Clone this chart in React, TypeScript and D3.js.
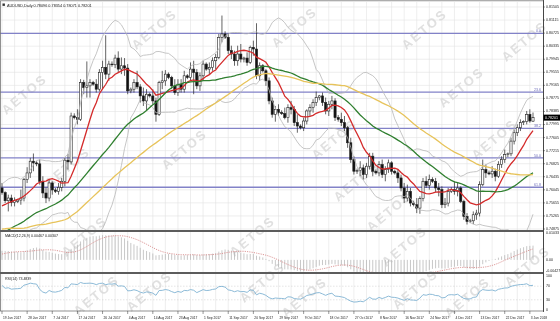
import React from 'react';
import * as d3 from 'd3';

const TITLE = 'AUDUSD,Daily  0.78096 0.78354 0.78071 0.78201';
const MACD_TITLE = 'MACD(12,26,9) 0.00467 0.00307';
const RSI_TITLE = 'RSI(14) 73.4839';
const LAST_PRICE = 0.78201;

// closes before the first visible bar (indicator history)
const historyCloses = [
  0.7630, 0.7610, 0.7570, 0.7580, 0.7590, 0.7540,
  0.7540, 0.7520, 0.7500, 0.7560, 0.7580, 0.7575,
  0.7575, 0.7600, 0.7560, 0.7530, 0.7540, 0.7545,
  0.7560, 0.7560, 0.7510, 0.7500, 0.7480, 0.7475,
  0.7475, 0.7520, 0.7530, 0.7440, 0.7410, 0.7420,
  0.7415, 0.7385, 0.7355, 0.7400, 0.7395, 0.7380,
  0.7385, 0.7420, 0.7410, 0.7445, 0.7415, 0.7470,
  0.7465, 0.7480, 0.7500, 0.7460, 0.7460, 0.7450,
  0.7450, 0.7445, 0.7430, 0.7425, 0.7420, 0.7450,
  0.7450, 0.7450, 0.7500, 0.7530, 0.7530, 0.7535,
  0.7535, 0.7540, 0.7540, 0.7575, 0.7580, 0.7605,
];

// visible daily bars: open, high, low, close
const bars: [number, number, number, number][] = [
  [0.7610, 0.7625, 0.7590, 0.7596], [0.7596, 0.7600, 0.7565, 0.7572], [0.7572, 0.7590, 0.7540, 0.7580],
  [0.7580, 0.7590, 0.7555, 0.7567], [0.7567, 0.7582, 0.7555, 0.7572], [0.7570, 0.7578, 0.7565, 0.7574],
  [0.7574, 0.7605, 0.7560, 0.7580], [0.7580, 0.7640, 0.7570, 0.7635], [0.7635, 0.7672, 0.7625, 0.7655],
  [0.7655, 0.7700, 0.7640, 0.7690], [0.7690, 0.7713, 0.7660, 0.7685], [0.7685, 0.7690, 0.7675, 0.7682],
  [0.7682, 0.7695, 0.7620, 0.7630], [0.7630, 0.7645, 0.7580, 0.7595], [0.7595, 0.7612, 0.7565, 0.7580],
  [0.7580, 0.7635, 0.7570, 0.7625], [0.7625, 0.7630, 0.7590, 0.7604], [0.7604, 0.7610, 0.7595, 0.7600],
  [0.7600, 0.7625, 0.7590, 0.7612], [0.7612, 0.7640, 0.7600, 0.7630], [0.7630, 0.7700, 0.7615, 0.7693],
  [0.7693, 0.7712, 0.7665, 0.7688], [0.7688, 0.7835, 0.7680, 0.7825], [0.7825, 0.7833, 0.7815, 0.7820],
  [0.7820, 0.7845, 0.7800, 0.7815], [0.7815, 0.7935, 0.7810, 0.7925], [0.7925, 0.7933, 0.7890, 0.7910],
  [0.7910, 0.7988, 0.7880, 0.7915], [0.7915, 0.7935, 0.7880, 0.7925], [0.7925, 0.7930, 0.7915, 0.7920],
  [0.7920, 0.7935, 0.7895, 0.7905], [0.7905, 0.7965, 0.7898, 0.7955], [0.7955, 0.7990, 0.7905, 0.7970],
  [0.7970, 0.8066, 0.7935, 0.7950], [0.7950, 0.7990, 0.7930, 0.7980], [0.7980, 0.7988, 0.7972, 0.7978],
  [0.7978, 0.8008, 0.7968, 0.7998], [0.7998, 0.8018, 0.7955, 0.7965], [0.7965, 0.8000, 0.7950, 0.7975],
  [0.7975, 0.7998, 0.7945, 0.7968], [0.7968, 0.7980, 0.7890, 0.7900], [0.7900, 0.7910, 0.7893, 0.7905],
  [0.7905, 0.7935, 0.7895, 0.7925], [0.7925, 0.7960, 0.7905, 0.7912], [0.7912, 0.7920, 0.7865, 0.7885],
  [0.7885, 0.7910, 0.7855, 0.7870], [0.7870, 0.7905, 0.7840, 0.7890], [0.7890, 0.7895, 0.7880, 0.7885],
  [0.7885, 0.7905, 0.7860, 0.7870], [0.7870, 0.7880, 0.7808, 0.7830], [0.7830, 0.7930, 0.7825, 0.7925],
  [0.7925, 0.7960, 0.7905, 0.7930], [0.7930, 0.7962, 0.7915, 0.7950], [0.7950, 0.7955, 0.7935, 0.7940],
  [0.7940, 0.7945, 0.7905, 0.7915], [0.7915, 0.7935, 0.7888, 0.7895], [0.7895, 0.7935, 0.7885, 0.7920],
  [0.7920, 0.7935, 0.7895, 0.7905], [0.7905, 0.7960, 0.7895, 0.7945], [0.7945, 0.7950, 0.7935, 0.7940],
  [0.7940, 0.7985, 0.7930, 0.7965], [0.7965, 0.7990, 0.7890, 0.7955], [0.7955, 0.7965, 0.7905, 0.7915],
  [0.7915, 0.7955, 0.7900, 0.7945], [0.7945, 0.7990, 0.7930, 0.7980], [0.7980, 0.7985, 0.7960, 0.7965],
  [0.7965, 0.7985, 0.7950, 0.7970], [0.7970, 0.8000, 0.7960, 0.7990], [0.7990, 0.8010, 0.7965, 0.8000],
  [0.8000, 0.8070, 0.7995, 0.8060], [0.8060, 0.8125, 0.8045, 0.8070], [0.8070, 0.8078, 0.8055, 0.8060],
  [0.8060, 0.8072, 0.8010, 0.8020], [0.8020, 0.8035, 0.7995, 0.8010], [0.8010, 0.8020, 0.7975, 0.7990],
  [0.7990, 0.8035, 0.7975, 0.8010], [0.8010, 0.8040, 0.7985, 0.7995], [0.7995, 0.8002, 0.7985, 0.7998],
  [0.7998, 0.8015, 0.7975, 0.7985], [0.7985, 0.8035, 0.7980, 0.8030], [0.8030, 0.8050, 0.8005, 0.8025],
  [0.8025, 0.8102, 0.7935, 0.7945], [0.7945, 0.7985, 0.7930, 0.7975], [0.7975, 0.7980, 0.7955, 0.7960],
  [0.7960, 0.7965, 0.7915, 0.7930], [0.7930, 0.7940, 0.7860, 0.7870], [0.7870, 0.7880, 0.7820, 0.7830],
  [0.7830, 0.7855, 0.7808, 0.7845], [0.7845, 0.7860, 0.7825, 0.7835], [0.7835, 0.7842, 0.7828, 0.7832],
  [0.7832, 0.7850, 0.7815, 0.7820], [0.7820, 0.7860, 0.7805, 0.7850], [0.7850, 0.7870, 0.7830, 0.7845],
  [0.7845, 0.7855, 0.7795, 0.7805], [0.7805, 0.7830, 0.7775, 0.7795], [0.7795, 0.7800, 0.7785, 0.7790],
  [0.7790, 0.7820, 0.7780, 0.7810], [0.7810, 0.7845, 0.7800, 0.7840], [0.7840, 0.7860, 0.7825, 0.7850],
  [0.7850, 0.7875, 0.7835, 0.7865], [0.7865, 0.7898, 0.7855, 0.7880], [0.7880, 0.7888, 0.7872, 0.7885],
  [0.7885, 0.7895, 0.7855, 0.7865], [0.7865, 0.7880, 0.7830, 0.7840], [0.7840, 0.7870, 0.7825, 0.7860],
  [0.7860, 0.7885, 0.7845, 0.7870], [0.7870, 0.7878, 0.7810, 0.7820], [0.7820, 0.7828, 0.7808, 0.7815],
  [0.7815, 0.7835, 0.7795, 0.7805], [0.7805, 0.7825, 0.7780, 0.7790], [0.7790, 0.7795, 0.7730, 0.7745],
  [0.7745, 0.7760, 0.7685, 0.7695], [0.7695, 0.7705, 0.7650, 0.7660], [0.7660, 0.7668, 0.7652, 0.7662],
  [0.7662, 0.7690, 0.7645, 0.7670], [0.7670, 0.7680, 0.7635, 0.7650], [0.7650, 0.7685, 0.7640, 0.7675],
  [0.7675, 0.7715, 0.7665, 0.7705], [0.7705, 0.7715, 0.7645, 0.7660], [0.7660, 0.7665, 0.7650, 0.7655],
  [0.7655, 0.7690, 0.7645, 0.7680], [0.7680, 0.7695, 0.7640, 0.7650], [0.7650, 0.7675, 0.7630, 0.7665],
  [0.7665, 0.7695, 0.7655, 0.7685], [0.7685, 0.7690, 0.7650, 0.7660], [0.7660, 0.7665, 0.7650, 0.7655],
  [0.7655, 0.7665, 0.7625, 0.7640], [0.7640, 0.7650, 0.7600, 0.7610], [0.7610, 0.7625, 0.7565, 0.7580],
  [0.7580, 0.7620, 0.7570, 0.7600], [0.7600, 0.7610, 0.7555, 0.7565], [0.7565, 0.7572, 0.7555, 0.7560],
  [0.7560, 0.7580, 0.7535, 0.7550], [0.7550, 0.7585, 0.7533, 0.7578], [0.7578, 0.7640, 0.7570, 0.7630],
  [0.7630, 0.7645, 0.7610, 0.7618], [0.7618, 0.7650, 0.7605, 0.7635], [0.7635, 0.7642, 0.7625, 0.7630],
  [0.7630, 0.7640, 0.7598, 0.7610], [0.7610, 0.7625, 0.7585, 0.7605], [0.7605, 0.7615, 0.7550, 0.7560],
  [0.7560, 0.7580, 0.7550, 0.7565], [0.7565, 0.7610, 0.7555, 0.7600], [0.7600, 0.7612, 0.7595, 0.7605],
  [0.7605, 0.7630, 0.7590, 0.7600], [0.7600, 0.7625, 0.7585, 0.7610], [0.7610, 0.7615, 0.7565, 0.7570],
  [0.7570, 0.7575, 0.7515, 0.7525], [0.7525, 0.7535, 0.7501, 0.7510], [0.7510, 0.7518, 0.7505, 0.7512],
  [0.7512, 0.7540, 0.7502, 0.7530], [0.7530, 0.7545, 0.7515, 0.7535], [0.7535, 0.7630, 0.7525, 0.7620],
  [0.7620, 0.7695, 0.7615, 0.7665], [0.7665, 0.7680, 0.7640, 0.7655], [0.7655, 0.7662, 0.7648, 0.7652],
  [0.7652, 0.7675, 0.7640, 0.7660], [0.7660, 0.7668, 0.7630, 0.7645], [0.7645, 0.7690, 0.7640, 0.7680],
  [0.7680, 0.7705, 0.7670, 0.7695], [0.7695, 0.7725, 0.7685, 0.7710], [0.7710, 0.7716, 0.7702, 0.7712],
  [0.7712, 0.7760, 0.7705, 0.7750], [0.7750, 0.7785, 0.7740, 0.7775], [0.7775, 0.7800, 0.7765, 0.7790],
  [0.7790, 0.7815, 0.7780, 0.7805], [0.7805, 0.7812, 0.7798, 0.7808], [0.7808, 0.7840, 0.7800, 0.7830],
  [0.7830, 0.7845, 0.7805, 0.7810], [0.78096, 0.78354, 0.78071, 0.78201],
];

const dateLabels = [
  '19 Jun 2017', '28 Jun 2017', '7 Jul 2017', '17 Jul 2017', '26 Jul 2017', '4 Aug 2017',
  '14 Aug 2017', '23 Aug 2017', '1 Sep 2017', '11 Sep 2017', '20 Sep 2017', '29 Sep 2017',
  '9 Oct 2017', '18 Oct 2017', '27 Oct 2017', '8 Nov 2017', '16 Nov 2017', '24 Nov 2017',
  '4 Dec 2017', '13 Dec 2017', '22 Dec 2017', '3 Jan 2018',
];
const BARS_PER_LABEL = 8;

const priceTicks = [
  0.74875, 0.75265, 0.75655, 0.76045, 0.76435, 0.76825, 0.77215, 0.77605, 0.77995,
  0.78385, 0.78775, 0.79165, 0.79555, 0.79945, 0.80335, 0.80725, 0.81115, 0.81505,
];
const macdTicks = [0.01033, 0.0, -0.00427];
const macdTickText = ['0.01033', '0.00', '-0.00427'];
const rsiTicks = [100, 70, 30, 0];
const rsiLevels = [70, 30];

const fibHigh = 0.8072;
const fibLow = 0.7328;
const fibLevels = [0.0, 23.6, 38.2, 50.0, 61.8];

const maPeriods = [10, 34, 60];
const maColors = ['#d42b2b', '#2f7f2f', '#e7c35a'];

const watermarks: [number, number][] = [
  [25, 95], [155, 30], [295, 28], [425, 30], [525, 42], [68, 168], [185, 150],
  [335, 140], [462, 88], [357, 182], [390, 212], [495, 140], [85, 237], [97, 296],
  [150, 292], [253, 237], [263, 283], [305, 298], [405, 247], [416, 290], [468, 298], [528, 267],
];

export default function App() {
  const W = 560, H = 321;
  const plotR = 543;
  const mainTop = 2, mainBot = 230;
  const macdTop = 232, macdBot = 272;
  const rsiTop = 274, rsiBot = 311;
  const N = bars.length;
  const H0 = historyCloses.length;
  const closes = [...historyCloses, ...bars.map(b => b[3])];

  const x = d3.scaleLinear().domain([0, N - 1]).range([2, 533]);
  const yP = d3.scaleLinear().domain([priceTicks[0], priceTicks[priceTicks.length - 1]]).range([229, 7]);
  const yM = d3.scaleLinear().domain([macdTicks[2], macdTicks[0]]).range([271, 233]);
  const yR = d3.scaleLinear().domain([0, 100]).range([310, 276]);

  const sma = (n: number) => bars.map((_, i) => d3.mean(closes.slice(H0 + i - n + 1, H0 + i + 1)) as number);
  const mas = maPeriods.map(sma);
  const bbMid = sma(20);
  const bbDev = bars.map((_, i) => {
    const s = closes.slice(H0 + i - 19, H0 + i + 1);
    const m = d3.mean(s) as number;
    return Math.sqrt(d3.mean(s, v => (v - m) * (v - m)) as number);
  });
  const bbUp = bbMid.map((m, i) => m + 2 * bbDev[i]);
  const bbLo = bbMid.map((m, i) => m - 2 * bbDev[i]);

  const ema = (n: number) => {
    const k = 2 / (n + 1);
    const out: number[] = [];
    closes.forEach((c, i) => out.push(i === 0 ? c : c * k + out[i - 1] * (1 - k)));
    return out;
  };
  const e12 = ema(12), e26 = ema(26);
  const macdAll = closes.map((_, i) => e12[i] - e26[i]);
  const macd = bars.map((_, i) => macdAll[H0 + i]);
  const signal = bars.map((_, i) => d3.mean(macdAll.slice(H0 + i - 8, H0 + i + 1)) as number);

  const rsiAll: number[] = [];
  let ag = 0, al = 0;
  for (let j = 1; j < closes.length; j++) {
    const d = closes[j] - closes[j - 1];
    const g = Math.max(d, 0), l = Math.max(-d, 0);
    if (j <= 14) {
      ag += g / 14; al += l / 14;
    } else {
      ag = (ag * 13 + g) / 14; al = (al * 13 + l) / 14;
    }
    rsiAll[j] = al === 0 ? 100 : 100 - 100 / (1 + ag / al);
  }
  const rsi = bars.map((_, i) => rsiAll[H0 + i]);

  const line = (ys: (v: number) => number) =>
    d3.line<number>().x((_, i) => x(i)).y(v => ys(v));

  const font = "'Liberation Sans', Arial, sans-serif";
  const gridC = '#e3e3e3';
  const vGrid = d3.range(0, N, 4);

  return (
    <svg width={W} height={H} style={{ position: 'fixed', left: 0, top: 0, background: '#fff' }} fontFamily={font}>
      <defs>
        <clipPath id="cMain"><rect x={0} y={mainTop} width={plotR} height={mainBot - mainTop} /></clipPath>
        <clipPath id="cMacd"><rect x={0} y={macdTop} width={plotR} height={macdBot - macdTop} /></clipPath>
        <clipPath id="cRsi"><rect x={0} y={rsiTop} width={plotR} height={rsiBot - rsiTop} /></clipPath>
      </defs>
      <rect x={0} y={0} width={W} height={H} fill="#fff" />

      {/* grid */}
      <g stroke={gridC} strokeWidth={0.6}>
        {vGrid.map(b => (
          <line key={'vg' + b} x1={x(b)} x2={x(b)} y1={mainTop} y2={rsiBot} />
        ))}
        {priceTicks.map(p => (
          <line key={'hg' + p} x1={0} x2={plotR} y1={yP(p)} y2={yP(p)} />
        ))}
      </g>

      {/* watermark */}
      <g fill="#d6d6d6" fontSize={13} fontWeight="bold" letterSpacing={2} opacity={0.75}>
        {watermarks.map(([cx, cy], i) => (
          <text key={'wm' + i} x={cx} y={cy} textAnchor="middle" dominantBaseline="middle"
            transform={`rotate(-40 ${cx} ${cy})`}>AETOS</text>
        ))}
      </g>

      {/* main panel */}
      <g clipPath="url(#cMain)">
        {fibLevels.map(l => {
          const yy = yP(fibHigh - (fibHigh - fibLow) * l / 100);
          return <line key={'fib' + l} x1={0} x2={plotR} y1={yy} y2={yy} stroke="#8282c8" strokeWidth={1.3} />;
        })}
        {bars.map(([o, h, l, c], i) => {
          const xc = x(i);
          const top = yP(Math.max(o, c)), bot = yP(Math.min(o, c));
          const up = c >= o;
          return (
            <g key={'b' + i}>
              <line x1={xc} x2={xc} y1={yP(h)} y2={yP(l)} stroke="#222" strokeWidth={0.7} />
              <rect x={xc - 1.1} y={top} width={2.2} height={Math.max(bot - top, 0.6)}
                fill={up ? '#fff' : '#111'} stroke="#222" strokeWidth={0.6} />
            </g>
          );
        })}
        <path d={line(yP)(bbUp) as string} fill="none" stroke="#b8b8b8" strokeWidth={0.8} />
        <path d={line(yP)(bbLo) as string} fill="none" stroke="#b8b8b8" strokeWidth={0.8} />
        {mas.map((m, k) => (
          <path key={'ma' + k} d={line(yP)(m) as string} fill="none" stroke={maColors[k]} strokeWidth={1.3} />
        ))}
      </g>
      {fibLevels.map(l => {
        const yy = yP(fibHigh - (fibHigh - fibLow) * l / 100);
        return <text key={'fl' + l} x={541} y={yy - 1} textAnchor="end" fontSize={3.6} fill="#6a6ab8">{l.toFixed(1)}</text>;
      })}

      {/* MACD panel */}
      <g clipPath="url(#cMacd)">
        {macd.map((v, i) => (
          <line key={'mh' + i} x1={x(i)} x2={x(i)} y1={yM(0)} y2={yM(v)} stroke="#b0b0b0" strokeWidth={0.7} />
        ))}
        <path d={line(yM)(signal) as string} fill="none" stroke="#d98c8c" strokeWidth={0.9} strokeDasharray="1.2,1.1" />
      </g>

      {/* RSI panel */}
      <g clipPath="url(#cRsi)">
        {rsiLevels.map(l => (
          <line key={'rl' + l} x1={0} x2={plotR} y1={yR(l)} y2={yR(l)} stroke="#c8c8c8" strokeWidth={0.5} strokeDasharray="1.5,1.5" />
        ))}
        <path d={line(yR)(rsi) as string} fill="none" stroke="#7fb2d2" strokeWidth={0.9} />
      </g>

      {/* frames and separators */}
      <rect x={0.5} y={0.8} width={plotR} height={rsiBot - 0.8} fill="none" stroke="#777" strokeWidth={0.8} />
      <line x1={0} x2={plotR} y1={231} y2={231} stroke="#5c5c5c" strokeWidth={1.8} />
      <line x1={0} x2={plotR} y1={273} y2={273} stroke="#5c5c5c" strokeWidth={1.8} />
      <line x1={plotR + 0.5} x2={plotR + 0.5} y1={0} y2={rsiBot + 1} stroke="#333" strokeWidth={0.8} />

      {/* titles */}
      <rect x={2.5} y={3.5} width={2.4} height={2.4} fill="#333" />
      <text x={7} y={7} fontSize={3.8} fill="#222">{TITLE}</text>
      <text x={5} y={237} fontSize={3.6} fill="#222">{MACD_TITLE}</text>
      <text x={5} y={280} fontSize={3.6} fill="#222">{RSI_TITLE}</text>

      {/* price axis */}
      <g fontSize={3.6} fill="#222">
        {priceTicks.map(p => (
          <g key={'pt' + p}>
            <line x1={plotR} x2={plotR + 2} y1={yP(p)} y2={yP(p)} stroke="#333" strokeWidth={0.5} />
            <text x={546} y={yP(p)} dominantBaseline="middle">{p.toFixed(5)}</text>
          </g>
        ))}
        {macdTicks.map((v, k) => (
          <text key={'mt' + k} x={546} y={yM(v)} dominantBaseline="middle">{macdTickText[k]}</text>
        ))}
        {rsiTicks.map(v => (
          <text key={'rt' + v} x={546} y={yR(v)} dominantBaseline="middle">{v}</text>
        ))}
      </g>
      <rect x={543.5} y={yP(LAST_PRICE) - 3} width={16.5} height={6} fill="#000" />
      <text x={545} y={yP(LAST_PRICE)} dominantBaseline="middle" fontSize={3.6} fill="#fff">{LAST_PRICE.toFixed(5)}</text>

      {/* time axis */}
      <g fontSize={3.3} fill="#222">
        {dateLabels.map((d, k) => {
          const xx = x(k * BARS_PER_LABEL);
          return (
            <g key={'dl' + k}>
              <line x1={xx} x2={xx} y1={rsiBot} y2={rsiBot + 3} stroke="#333" strokeWidth={0.5} />
              <text x={xx + 1} y={319}>{d}</text>
            </g>
          );
        })}
      </g>
    </svg>
  );
}
